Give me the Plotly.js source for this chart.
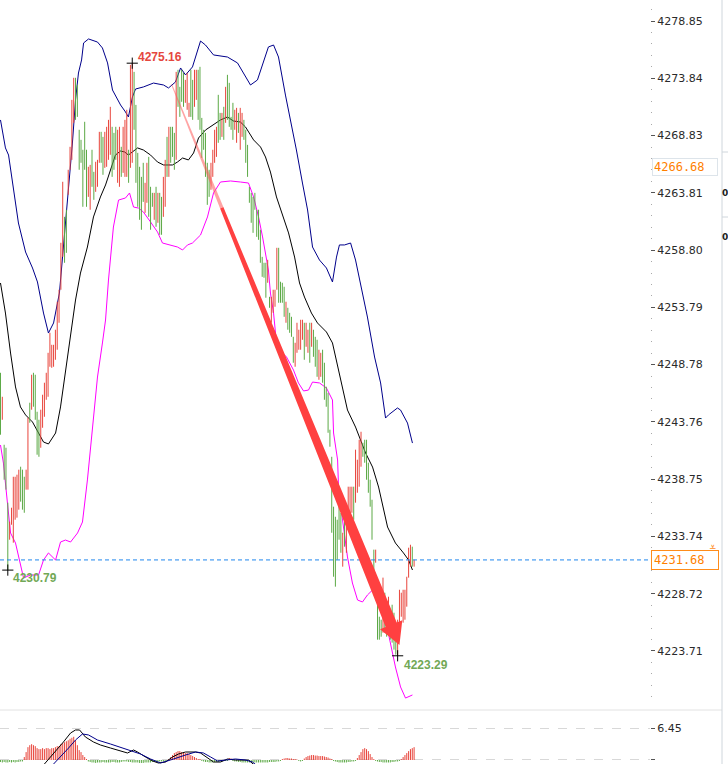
<!DOCTYPE html>
<html><head><meta charset="utf-8">
<script src="https://cdn.plot.ly/plotly-3.0.1.min.js"></script>
<style>html,body{margin:0;padding:0;background:#fff;overflow:hidden}#chart{width:728px;height:764px}</style>
</head><body><div id="chart"></div>
<script>
// ---- price bars (high / low per bar, R = up bar, G = down bar) ----
const highs = [
4248.06,4245.96,4241.76,4241.50,4236.69,4235.03,4236.25,4238.96,4238.96,4239.14,
4239.58,4239.84,4239.58,4238.96,4239.58,4244.13,4245.44,4247.89,4248.06,4247.89,
4244.65,4243.95,4244.83,4246.14,4247.19,4248.06,4249.81,4251.56,4250.51,4250.51,
4251.83,4254.28,4255.33,4259.44,4264.78,4261.71,4262.33,4265.83,4267.84,4271.95,
4273.88,4273.88,4273.26,4269.33,4268.45,4267.58,4270.03,4267.58,4266.09,4266.26,
4267.58,4265.65,4266.53,4266.70,4269.15,4269.15,4268.71,4269.15,4269.59,4270.20,
4271.34,4269.59,4269.06,4269.59,4269.33,4269.59,4267.84,4269.59,4270.20,4271.08,
4267.58,4275.01,4275.16,4274.40,4271.51,4267.31,4266.09,4265.21,4266.44,4264.69,
4266.44,4266.96,4264.34,4263.81,4263.81,4264.34,4263.81,4263.81,4263.46,4265.21,
4266.70,4268.71,4269.59,4269.59,4269.59,4269.06,4274.40,4274.58,4273.09,4274.58,
4274.31,4273.70,4274.31,4271.69,4274.58,4273.70,4274.58,4274.58,4274.58,4274.84,
4270.37,4269.33,4269.06,4266.44,4265.83,4266.44,4267.58,4269.33,4269.59,4272.39,
4270.81,4270.81,4271.34,4273.09,4274.14,4273.44,4270.46,4271.69,4271.08,4271.25,
4270.81,4271.25,4270.81,4270.20,4269.33,4268.01,4264.34,4263.81,4263.46,4263.81,
4262.33,4262.33,4260.58,4258.21,4257.69,4257.69,4257.95,4254.71,4254.71,4255.33,
4255.33,4259.00,4259.00,4256.03,4255.94,4255.59,4254.28,4253.75,4253.31,4252.96,
4251.21,4250.69,4252.44,4251.83,4252.70,4252.70,4252.44,4252.44,4251.83,4252.44,
4252.44,4251.83,4251.21,4250.95,4250.08,4249.81,4250.08,4248.94,4246.84,4246.31,
4243.08,4240.71,4236.34,4235.46,4235.20,4236.95,4235.81,4234.06,4235.81,4236.34,
4238.09,4238.09,4238.09,4238.09,4241.33,4240.45,4242.20,4242.90,4241.94,4242.20,
4242.20,4240.19,4238.70,4236.95,4232.58,4232.58,4228.81,4226.71,4226.45,4230.13,
4228.81,4227.59,4228.46,4226.71,4227.76,4227.06,4225.31,4226.45,4229.07,4228.81,
4229.07,4229.07,4230.21,4232.75,4233.01,4232.84,4231.70
];
const lows = [
4242.64,4243.95,4238.70,4237.83,4230.79,4233.45,4234.76,4233.19,4235.20,4235.38,
4236.08,4236.78,4236.08,4235.81,4237.83,4237.83,4243.69,4244.83,4245.09,4243.95,
4240.89,4240.71,4241.50,4243.25,4244.21,4245.70,4245.96,4248.59,4248.50,4248.59,
4249.20,4250.08,4252.44,4255.33,4258.21,4257.69,4258.56,4263.64,4265.83,4266.70,
4269.94,4270.20,4270.46,4265.83,4266.44,4262.59,4265.83,4262.59,4263.46,4262.33,
4264.34,4263.20,4263.90,4264.34,4266.44,4266.44,4265.39,4266.00,4266.09,4266.70,
4267.14,4265.21,4265.83,4266.70,4264.69,4264.34,4265.21,4265.56,4265.21,4265.21,
4264.69,4266.00,4266.44,4269.33,4264.69,4262.59,4261.45,4260.58,4263.02,4262.06,
4262.94,4261.71,4260.58,4262.59,4261.45,4260.84,4261.19,4260.14,4260.14,4261.71,
4262.59,4265.21,4265.21,4266.44,4266.96,4265.83,4266.70,4271.34,4270.46,4271.78,
4271.34,4271.69,4271.08,4270.46,4270.46,4270.20,4271.34,4271.95,4270.20,4269.33,
4266.87,4267.58,4265.21,4262.76,4263.46,4264.08,4265.21,4266.44,4266.96,4268.19,
4268.45,4268.71,4268.45,4269.94,4270.20,4269.59,4269.33,4268.45,4269.33,4268.19,
4269.06,4267.58,4268.71,4268.45,4266.44,4265.21,4262.94,4261.19,4260.31,4262.33,
4259.96,4259.70,4257.69,4256.46,4256.38,4254.63,4255.94,4253.75,4252.44,4253.31,
4253.84,4255.33,4254.19,4254.19,4254.19,4252.96,4252.44,4251.83,4251.56,4251.21,
4248.94,4248.59,4249.81,4250.08,4250.08,4250.95,4249.20,4250.34,4249.81,4248.94,
4250.34,4249.46,4248.59,4247.71,4247.45,4247.71,4247.19,4245.70,4245.09,4242.81,
4241.59,4234.06,4230.21,4229.34,4231.70,4233.45,4232.31,4231.09,4232.84,4232.31,
4234.33,4235.46,4235.81,4235.20,4236.69,4237.56,4238.09,4239.84,4240.71,4240.19,
4238.70,4237.56,4236.34,4233.45,4229.95,4231.44,4224.70,4224.70,4224.96,4225.31,
4225.31,4224.96,4225.84,4224.70,4224.44,4223.83,4223.39,4223.29,4226.01,4226.71,
4226.19,4226.45,4227.59,4230.13,4231.09,4231.09,4231.09
];
const barDir = ("GRGGGRRRRR"+"RGGGRRGRGG"+"GGRRRRRRRR"+"RRRRRGGRRR"+"RGGGGGGGRR"+
  "GGRRRGGRRR"+"RGGGRRGRRR"+"GRRGGGGGGR"+"RGGGRGRGGR"+"RGRGGGRGGG"+
  "GRRRGGRRGG"+"GGGGGRRRRG"+"GRGRGGGGRR"+"GRRGGGGGGG"+"GGGGGGRGRR"+
  "RRGGGGRGGG"+"GRRRRRGRRG"+"RGGGRRGGGG"+"GGGGGGGRGR"+"RRRGRRRRGG"+
  "GGGGGRGGGR"+"GGRGGGGRRR"+"RRRRRGR").split("");

// ---- Bollinger bands (bar index, price) ----
const upperIdx = [0,2.7,4.4,7.1,9.8,13.7,17.5,20.2,23.5,26.2,29.0,32.2,34.4,37.2,39.3,41.0,42.6,44.3,45.4,48.1,53.0,55.7,58.5,61.2,63.9,65.6,68.3,69.9,72.1,73.8,78.1,83.6,89.1,91.8,95.6,98.4,101.1,104.9,109.3,112.0,116.4,124.0,129.5,132.8,136.6,140.4,143.7,146.4,149.2,151.9,155.7,159.6,161.7,165.0,167.8,170.5,174.3,178.1,181.4,183.6,185.2,188.0,191.3,194.0,196.7,200.5,204.4,207.7,210.4,212.0,216.9,218.6,222.4,225.1];
const upperVal = [4270.19,4267.74,4267.12,4264.06,4261.17,4258.63,4257.23,4256.01,4253.29,4251.54,4252.42,4255.04,4259.07,4263.80,4268.17,4271.94,4274.30,4275.44,4276.93,4277.28,4277.01,4276.49,4275.18,4272.81,4271.94,4271.50,4270.89,4270.45,4272.20,4272.90,4273.08,4273.42,4273.25,4272.99,4273.51,4274.74,4274.13,4274.83,4277.10,4276.75,4275.88,4275.70,4275.18,4274.30,4273.25,4273.69,4275.26,4276.58,4276.75,4275.70,4272.37,4269.31,4267.56,4264.67,4262.31,4259.07,4257.93,4257.23,4256.01,4258.19,4259.25,4259.25,4259.42,4257.93,4255.92,4252.94,4249.44,4247.17,4244.10,4244.37,4244.98,4244.80,4243.66,4241.91];
const midIdx = [0,2.7,5.5,8.2,10.9,13.7,17.5,20.8,23.5,26.2,30.1,32.8,35.5,38.3,41.0,43.7,47.5,50.8,54.6,57.4,60.1,62.8,65.6,67.8,69.9,72.1,74.9,78.1,82.0,85.8,89.1,94.0,96.7,99.5,102.7,105.5,108.2,112.0,116.4,120.2,124.0,127.3,131.1,133.9,138.3,142.1,144.8,147.5,150.8,154.6,157.4,160.7,163.4,166.1,169.9,173.2,178.1,181.4,184.7,189.6,194.0,199.5,203.3,206.6,211.5,215.8,220.2,223.0,225.1];
const midVal = [4255.92,4253.29,4249.79,4246.82,4245.07,4244.37,4243.75,4242.79,4242.00,4241.83,4242.79,4245.07,4248.30,4251.54,4254.43,4256.79,4259.07,4261.70,4263.45,4264.50,4265.81,4267.12,4267.47,4267.39,4267.12,4267.39,4267.74,4267.56,4267.12,4266.51,4266.25,4266.25,4266.51,4266.86,4266.69,4267.30,4268.61,4269.31,4269.75,4270.19,4270.45,4270.10,4270.01,4269.57,4268.44,4267.82,4266.95,4265.63,4263.45,4261.70,4260.30,4258.19,4255.92,4254.69,4253.29,4252.42,4251.63,4250.67,4248.30,4244.80,4243.31,4241.04,4239.81,4238.06,4234.56,4233.16,4232.29,4231.67,4230.80];
const lowerIdx = [0,1.6,3.8,5.5,8.2,10.9,12.6,16.4,20.8,23.5,26.2,30.1,32.8,35.5,38.3,42.1,44.8,47.5,50.3,53.0,55.7,57.4,59.0,61.7,64.5,68.3,70.5,72.7,75.4,78.1,82.0,85.8,88.5,92.9,96.7,99.5,102.2,104.9,109.3,113.1,116.4,120.2,125.7,131.1,135.5,138.3,141.0,143.2,144.8,146.4,147.5,149.2,150.8,152.5,156.3,160.1,162.8,165.6,168.3,170.5,174.3,178.1,181.4,182.0,184.2,184.7,186.9,189.6,192.3,195.1,197.8,200.5,203.3,206.6,210.4,213.1,215.8,218.6,221.3,225.1];
const lowerVal = [4241.74,4240.16,4236.66,4234.04,4233.16,4231.41,4230.10,4230.36,4230.36,4231.67,4232.29,4231.67,4233.25,4233.42,4233.25,4234.04,4235.00,4238.68,4243.31,4247.69,4250.67,4252.68,4256.18,4260.82,4263.18,4263.36,4263.80,4262.57,4262.48,4262.13,4261.26,4260.38,4259.42,4259.25,4259.07,4258.81,4259.25,4259.42,4260.12,4261.70,4263.80,4264.76,4264.85,4264.76,4264.67,4263.45,4261.70,4259.95,4258.37,4257.06,4255.04,4253.29,4250.67,4250.05,4249.44,4248.30,4247.17,4246.47,4246.55,4247.25,4247.17,4246.73,4245.68,4242.79,4240.43,4238.06,4235.17,4231.94,4229.66,4228.17,4228.00,4228.61,4229.05,4228.17,4226.42,4224.41,4222.31,4220.56,4219.59,4219.86];

// ---- MACD panel ----
const macdHist = [
-0.4,-0.5,-0.4,-0.5,-0.5,-0.4,-0.5,-0.4,-0.5,-0.4,-0.4,-0.3,-0.3,
0.6,1.6,2.6,3.0,3.2,3.0,2.8,2.4,2.2,2.2,2.4,2.2,2.4,2.4,2.2,2.4,2.4,2.6,2.8,2.8,3.2,3.4,3.6,3.8,4.0,4.3,4.5,4.7,4.0,3.0,2.0,1.6,1.0,0.6,0.2,
-0.3,-0.4,-0.5,-0.5,-0.6,-0.5,-0.5,-0.5,-0.4,-0.5,-0.5,-0.5,-0.5,-0.4,-0.4,-0.5,-0.5,-0.5,-0.4,-0.3,-0.3,-0.3,-0.4,-0.4,-0.5,-0.5,-0.5,-0.5,-0.6,-0.6,-0.6,-0.5,-0.5,-0.5,-0.5,-0.4,-0.4,-0.4,-0.4,-0.3,-0.3,-0.3,-0.2,-0.2,
0.2,0.6,1.0,1.4,1.6,1.8,1.8,1.6,1.6,1.4,1.4,1.2,1.0,0.8,0.6,0.4,0.2,0.2,
-0.2,-0.3,-0.4,-0.4,-0.5,-0.5,-0.5,-0.4,-0.4,-0.4,-0.3,-0.3,-0.2,-0.2,-0.2,
0.4,0.3,
-0.2,-0.3,-0.3,-0.4,-0.4,-0.5,-0.5,-0.5,-0.5,-0.5,-0.5,-0.5,-0.5,-0.5,-0.5,-0.5,-0.5,-0.5,-0.5,-0.5,-0.4,-0.4,-0.4,-0.4,-0.3,-0.3,-0.2,
0.2,0.3,0.4,0.4,0.3,0.3,0.2,0.2,0.1,
-0.2,-0.3,-0.2,
0.3,0.6,0.8,0.9,1.0,1.0,0.9,0.9,0.8,0.8,0.8,0.7,0.6,0.5,0.3,0.2,
-0.2,-0.3,-0.4,-0.5,-0.5,-0.5,-0.5,-0.5,-0.4,-0.4,-0.3,-0.3,-0.2,
0.4,1.0,1.6,2.2,2.4,2.2,1.8,1.2,0.6,0.2,
-0.2,-0.3,-0.4,-0.4,-0.5,-0.5,-0.5,-0.5,-0.5,-0.4,-0.4,-0.3,-0.3,-0.2,
0.2,0.6,1.0,1.4,1.8,2.2,2.4,2.6
];
const difIdx = [24.0,27.3,31.1,34.4,38.3,41.0,43.2,46.4,50.8,54.6,60.1,65.6,69.4,72.7,74.9,79.2,83.1,86.3,90.2,94.0,97.3,101.1,106.6,109.3,113.1,116.4,120.2,124.0,128.4,135.5,139.3];
const difVal = [-0.81,0.61,2.03,3.65,5.47,6.08,6.08,4.66,3.65,3.04,2.43,1.82,1.42,2.03,1.62,0.61,-0.20,-0.61,-0.41,0.61,1.22,1.62,1.62,1.42,0.41,-0.41,-0.41,0.20,0.0,0.0,-1.2];
const deaIdx = [29.0,32.8,37.2,41.0,44.8,48.1,53.0,60.1,66.7,72.7,76.5,82.0,87.4,92.9,97.3,101.1,106.6,110.9,114.8,118.6,123.0,128.4,133.9,137.7,141.0];
const deaVal = [-0.81,0.61,2.43,4.05,5.27,5.07,4.05,3.24,2.43,1.82,1.22,0.20,-0.61,0.0,0.61,1.01,1.62,1.42,0.61,-0.20,0.0,0.20,0.0,-0.41,-1.4];

// ---- axis labels / markers ----
const priceTicks = [4278.85,4273.84,4268.83,4263.81,4258.80,4253.79,4248.78,4243.76,4238.75,4233.74,4228.72,4223.71];
const priceTickText = ["4278.85","4273.84","4268.83","4263.81","4258.80","4253.79","4248.78","4243.76","4238.75","4233.74","4228.72","4223.71"];
const macdTicks = [6.45,0.17];
const macdTickText = ["6.45","0.17"];
const lastPrice = 4231.68;
const cursorPrice = 4266.06, cursorText = "4266.68";
const highIdx = 72, lowIdxA = 4, lowIdxB = 217;
const arrowStart = {i:93.5, p:4273.3}, arrowTip = {i:218.0, p:4224.23};

// ---- geometry of the view ----
const X0 = -0.27, X1 = 354.9, PLOTW = 650;
const YTOP = 4280.69, YBOT = 4218.72, MAINH = 708;
const SX = PLOTW/(X1-X0), SY = MAINH/(YTOP-YBOT);

const RED = '#e8453c', GREEN = '#5ca946';

function segs(sel){
  const x=[],y=[];
  for(let i=0;i<highs.length;i++){ if(barDir[i]===sel){ x.push(i,i,null); y.push(lows[i],highs[i],null);} }
  return {x,y};
}
function histSegs(pos){
  const x=[],y=[];
  macdHist.forEach((v,i)=>{ if((v>0)===pos){ x.push(i,i,null); y.push(0,v,null);} });
  return {x,y};
}
const rs = segs('R'), gs = segs('G'), hp = histSegs(true), hn = histSegs(false);

const traces = [
  {x:upperIdx,y:upperVal,mode:'lines',line:{color:'#00008b',width:1},hoverinfo:'skip'},
  {x:midIdx,y:midVal,mode:'lines',line:{color:'#000',width:1},hoverinfo:'skip'},
  {x:lowerIdx,y:lowerVal,mode:'lines',line:{color:'#ff00ff',width:1},hoverinfo:'skip'},
  {x:rs.x,y:rs.y,mode:'lines',line:{color:RED,width:1},hoverinfo:'skip'},
  {x:gs.x,y:gs.y,mode:'lines',line:{color:GREEN,width:1},hoverinfo:'skip'},
  {x:[highIdx,lowIdxA,lowIdxB],y:[highs[highIdx],lows[lowIdxA],lows[lowIdxB]],mode:'markers',
   marker:{symbol:'cross-thin',size:8,line:{width:1,color:'#000'}},hoverinfo:'skip',cliponaxis:false},
  {x:hp.x,y:hp.y,mode:'lines',line:{color:RED,width:1},xaxis:'x',yaxis:'y2',hoverinfo:'skip'},
  {x:hn.x,y:hn.y,mode:'lines',line:{color:GREEN,width:1},xaxis:'x',yaxis:'y2',hoverinfo:'skip'},
  {x:difIdx,y:difVal,mode:'lines',line:{color:'#000',width:1},xaxis:'x',yaxis:'y2',hoverinfo:'skip'},
  {x:deaIdx,y:deaVal,mode:'lines',line:{color:'#00008b',width:1},xaxis:'x',yaxis:'y2',hoverinfo:'skip'}
];

// tapered arrow polygon, computed in pixels then mapped back to data
function toPx(i,p){return [(i-X0)*SX,(YTOP-p)*SY];}
function toData(px,py){return [px/SX+X0, YTOP-py/SY];}
const s = toPx(arrowStart.i,arrowStart.p), t = toPx(arrowTip.i,arrowTip.p);
const dx=t[0]-s[0], dy=t[1]-s[1], L=Math.hypot(dx,dy), ux=dx/L, uy=dy/L, nx=uy, ny=-ux;
const headLen=22, shaftW=6, headW=12, startW=0.5;
const bc=[t[0]-ux*headLen, t[1]-uy*headLen];
function pathOf(list){ return 'M'+list.map(q=>toData(q[0],q[1])).map(q=>q[0].toFixed(3)+','+q[1].toFixed(3)).join(' L')+' Z'; }
// faded thin head of the stroke
const f = 0.22, fw = startW + (shaftW-startW)*f*L/(L-headLen);
const fp = [s[0]+dx*f, s[1]+dy*f];
const fadePath = pathOf([[s[0]+nx*startW,s[1]+ny*startW],[fp[0]+nx*fw,fp[1]+ny*fw],[fp[0]-nx*fw,fp[1]-ny*fw],[s[0]-nx*startW,s[1]-ny*startW]]);
const arrowPath = pathOf([
  [fp[0]+nx*fw,fp[1]+ny*fw],[bc[0]+nx*shaftW,bc[1]+ny*shaftW],[bc[0]+nx*headW,bc[1]+ny*headW],
  t,[bc[0]-nx*headW,bc[1]-ny*headW],[bc[0]-nx*shaftW,bc[1]-ny*shaftW],[fp[0]-nx*fw,fp[1]-ny*fw]]);

const H=764, mainBottom=(H-MAINH)/H, subTop=52/H;
const tickFont = {family:'DejaVu Sans',size:11,color:'#2a2a2a'};
const layout = {
  width:728, height:764, margin:{l:0,r:78,t:0,b:0},
  paper_bgcolor:'#fff', plot_bgcolor:'#fff', showlegend:false,
  xaxis:{range:[X0,X1],showgrid:false,zeroline:false,showticklabels:false,ticks:'',showline:false,anchor:'y2'},
  yaxis:{domain:[mainBottom,1],range:[YBOT,YTOP],side:'right',showgrid:false,zeroline:false,showline:false,
    tickmode:'array',tickvals:priceTicks,ticktext:priceTickText,ticks:'outside',ticklen:4,tickcolor:'#555',
    tickfont:tickFont,
    minor:{tick0:4278.85,dtick:1.0025,ticks:'outside',ticklen:1,tickcolor:'#aaa',showgrid:false}},
  yaxis2:{domain:[0,subTop],range:[-0.81,9.72],side:'right',zeroline:false,showline:false,
    tickmode:'array',tickvals:macdTicks,ticktext:macdTickText,ticks:'outside',ticklen:4,tickcolor:'#555',
    showgrid:true,gridcolor:'#d8d8d8',griddash:'dash',gridwidth:1,tickfont:tickFont},
  shapes:[
    {type:'line',xref:'paper',yref:'y',x0:0,x1:1,y0:lastPrice,y1:lastPrice,line:{color:'#1f86ee',width:1,dash:'4px,3px'}},
    {type:'line',xref:'paper',yref:'paper',x0:0,x1:722/PLOTW,y0:(H-710)/H,y1:(H-710)/H,line:{color:'#e2e2e2',width:1}},
    {type:'line',xref:'paper',yref:'paper',x0:722/PLOTW,x1:722/PLOTW,y0:0,y1:1,line:{color:'#cfd6dc',width:1}},
    {type:'line',xref:'paper',yref:'paper',x0:722/PLOTW,x1:728/PLOTW,y0:(H-152)/H,y1:(H-152)/H,line:{color:'#cfd6dc',width:1}},
    {type:'line',xref:'paper',yref:'paper',x0:722/PLOTW,x1:728/PLOTW,y0:(H-217)/H,y1:(H-217)/H,line:{color:'#cfd6dc',width:1}},
    {type:'path',xref:'x',yref:'y',path:fadePath,fillcolor:'rgba(255,90,90,0.55)',line:{width:0},layer:'above'},
    {type:'path',xref:'x',yref:'y',path:arrowPath,fillcolor:'#ff4040',line:{width:0},layer:'above'}
  ],
  annotations:[
    {x:highIdx,y:highs[highIdx],xref:'x',yref:'y',text:highs[highIdx].toFixed(2),showarrow:false,xanchor:'left',yanchor:'middle',xshift:4,yshift:6,
     font:{family:'Liberation Sans',size:12,color:'#e5473e',weight:'bold'}},
    {x:lowIdxA,y:lows[lowIdxA],xref:'x',yref:'y',text:lows[lowIdxA].toFixed(2),showarrow:false,xanchor:'left',yanchor:'middle',xshift:3,yshift:-8,
     font:{family:'Liberation Sans',size:12,color:'#72a856',weight:'bold'}},
    {x:lowIdxB,y:lows[lowIdxB],xref:'x',yref:'y',text:lows[lowIdxB].toFixed(2),showarrow:false,xanchor:'left',yanchor:'middle',xshift:4,yshift:-9,
     font:{family:'Liberation Sans',size:12,color:'#72a856',weight:'bold'}},
    {x:651/PLOTW,y:lastPrice,xref:'paper',yref:'y',text:lastPrice.toFixed(2),showarrow:false,xanchor:'left',yanchor:'middle',
     width:62,align:'left',bgcolor:'#fff',bordercolor:'#ff8c1a',borderwidth:1,borderpad:2,
     font:{family:'DejaVu Sans Mono',size:12,color:'#ff7f00'}},
    {x:652/PLOTW,y:cursorPrice,xref:'paper',yref:'y',text:cursorText,showarrow:false,xanchor:'left',yanchor:'middle',
     width:62,align:'left',bgcolor:'#fff',bordercolor:'#dde4ea',borderwidth:1,borderpad:1,
     font:{family:'DejaVu Sans Mono',size:12,color:'#ff7f00'}},
    {x:713/PLOTW,y:lastPrice,xref:'paper',yref:'y',text:'≚',showarrow:false,xanchor:'center',yanchor:'bottom',yshift:4,
     font:{family:'DejaVu Sans',size:9,color:'#ff8c1a'}},
    {x:722/PLOTW,y:(H-186)/H,xref:'paper',yref:'paper',text:'0',showarrow:false,xanchor:'left',xshift:-2,
     font:{family:'DejaVu Sans',size:9,color:'#222',weight:'bold'}},
    {x:722/PLOTW,y:(H-230)/H,xref:'paper',yref:'paper',text:'0',showarrow:false,xanchor:'left',xshift:-2,
     font:{family:'DejaVu Sans',size:9,color:'#222',weight:'bold'}}
  ]
};
Plotly.newPlot('chart', traces, layout, {staticPlot:true, displayModeBar:false});
</script></body></html>
